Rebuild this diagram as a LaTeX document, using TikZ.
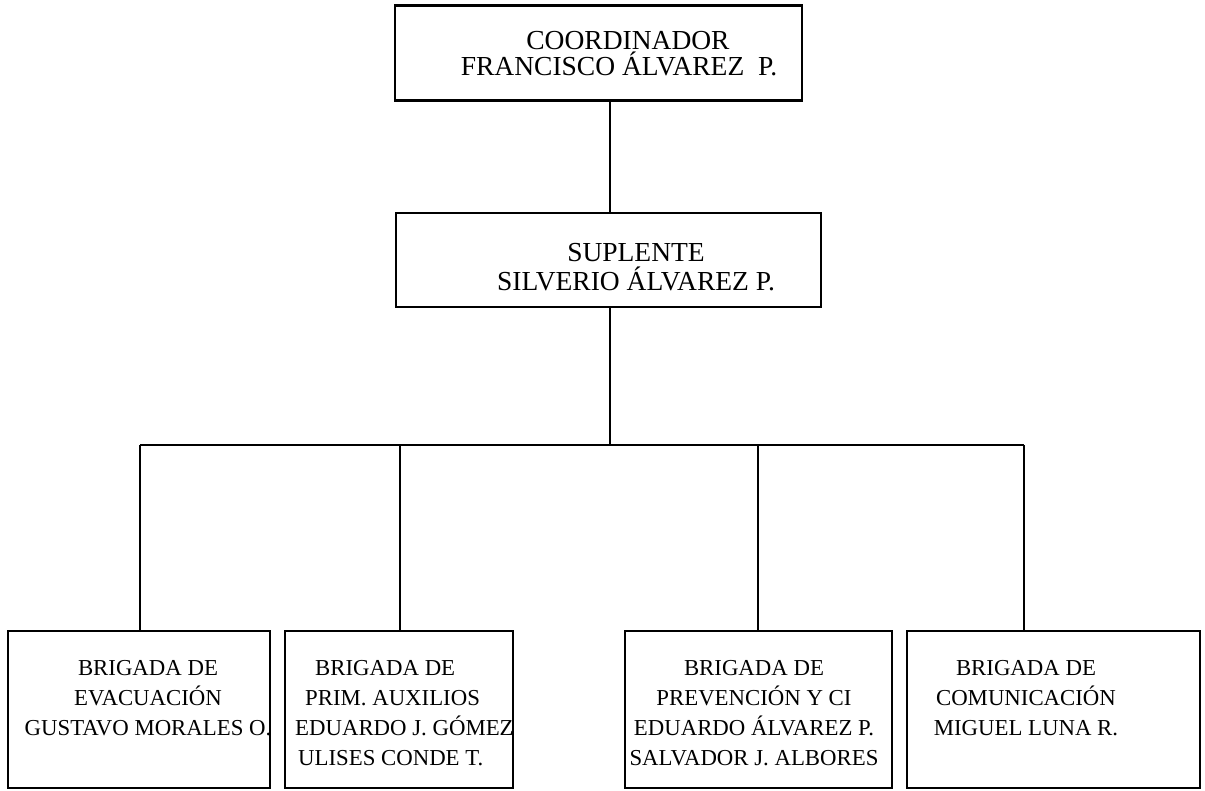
\documentclass[tikz,border=0pt]{standalone}
\usepackage{fontspec}
\setmainfont{Liberation Serif}
\begin{document}
\begin{tikzpicture}[x=1pt,y=-1pt,
  box/.style={draw, line width=2.2pt, rectangle, inner sep=0pt},
  conn/.style={line width=2.2pt},
  lbl/.style={align=center, font=\fontsize{22.8}{30}\selectfont, inner sep=0pt, anchor=base},
  biglbl/.style={lbl, font=\fontsize{27.5}{26}\selectfont}]
\useasboundingbox (0,0) rectangle (1205,790);
% boxes
\node[box, minimum width=407pt, minimum height=95pt] (coord) at (598.5,53) {};
\node[box, minimum width=425pt, minimum height=94pt] (sup) at (608.5,260) {};
\node[box, minimum width=262pt, minimum height=157pt] (b1) at (139,709.5) {};
\node[box, minimum width=228pt, minimum height=157pt] (b2) at (399,709.5) {};
\node[box, minimum width=267pt, minimum height=157pt] (b3) at (758.5,709.5) {};
\node[box, minimum width=293pt, minimum height=157pt] (b4) at (1053.5,709.5) {};
% labels
\node[biglbl] (tcoord) at (619,75) {\hspace*{18pt}COORDINADOR\\FRANCISCO ÁLVAREZ\ \ P.};
\node[biglbl, font=\fontsize{27.5}{29}\selectfont] (tsup) at (636,290) {SUPLENTE\\SILVERIO ÁLVAREZ P.};
\node[lbl] (t1) at (148,735) {BRIGADA DE\\EVACUACIÓN\\GUSTAVO MORALES O.};
\node[lbl, align=left, anchor=base west] (t2) at (295,765) {\hspace*{20pt}BRIGADA DE\\\hspace*{10pt}PRIM. AUXILIOS\\EDUARDO J. GÓMEZ\\\hspace*{3pt}ULISES CONDE T.};
\node[lbl] (t3) at (754,765) {BRIGADA DE\\PREVENCIÓN Y CI\\EDUARDO ÁLVAREZ P.\\SALVADOR J. ALBORES};
\node[lbl] (t4) at (1026,735) {BRIGADA DE\\COMUNICACIÓN\\MIGUEL LUNA R.};
% connectors
\coordinate (bus) at (610,445);
\coordinate (bl) at (140,445);
\coordinate (br) at (1024,445);
\draw[conn] (coord.south -| bus) -- (sup.north -| bus);
\draw[conn] (sup.south -| bus) -- (bus);
\draw[conn] (bl) -- (br);
\draw[conn] (bl) -- (bl |- b1.north);
\draw[conn] (400,445) -- (400,631);
\draw[conn] (758,445) -- (758,631);
\draw[conn] (br) -- (br |- b4.north);
\end{tikzpicture}
\end{document}
